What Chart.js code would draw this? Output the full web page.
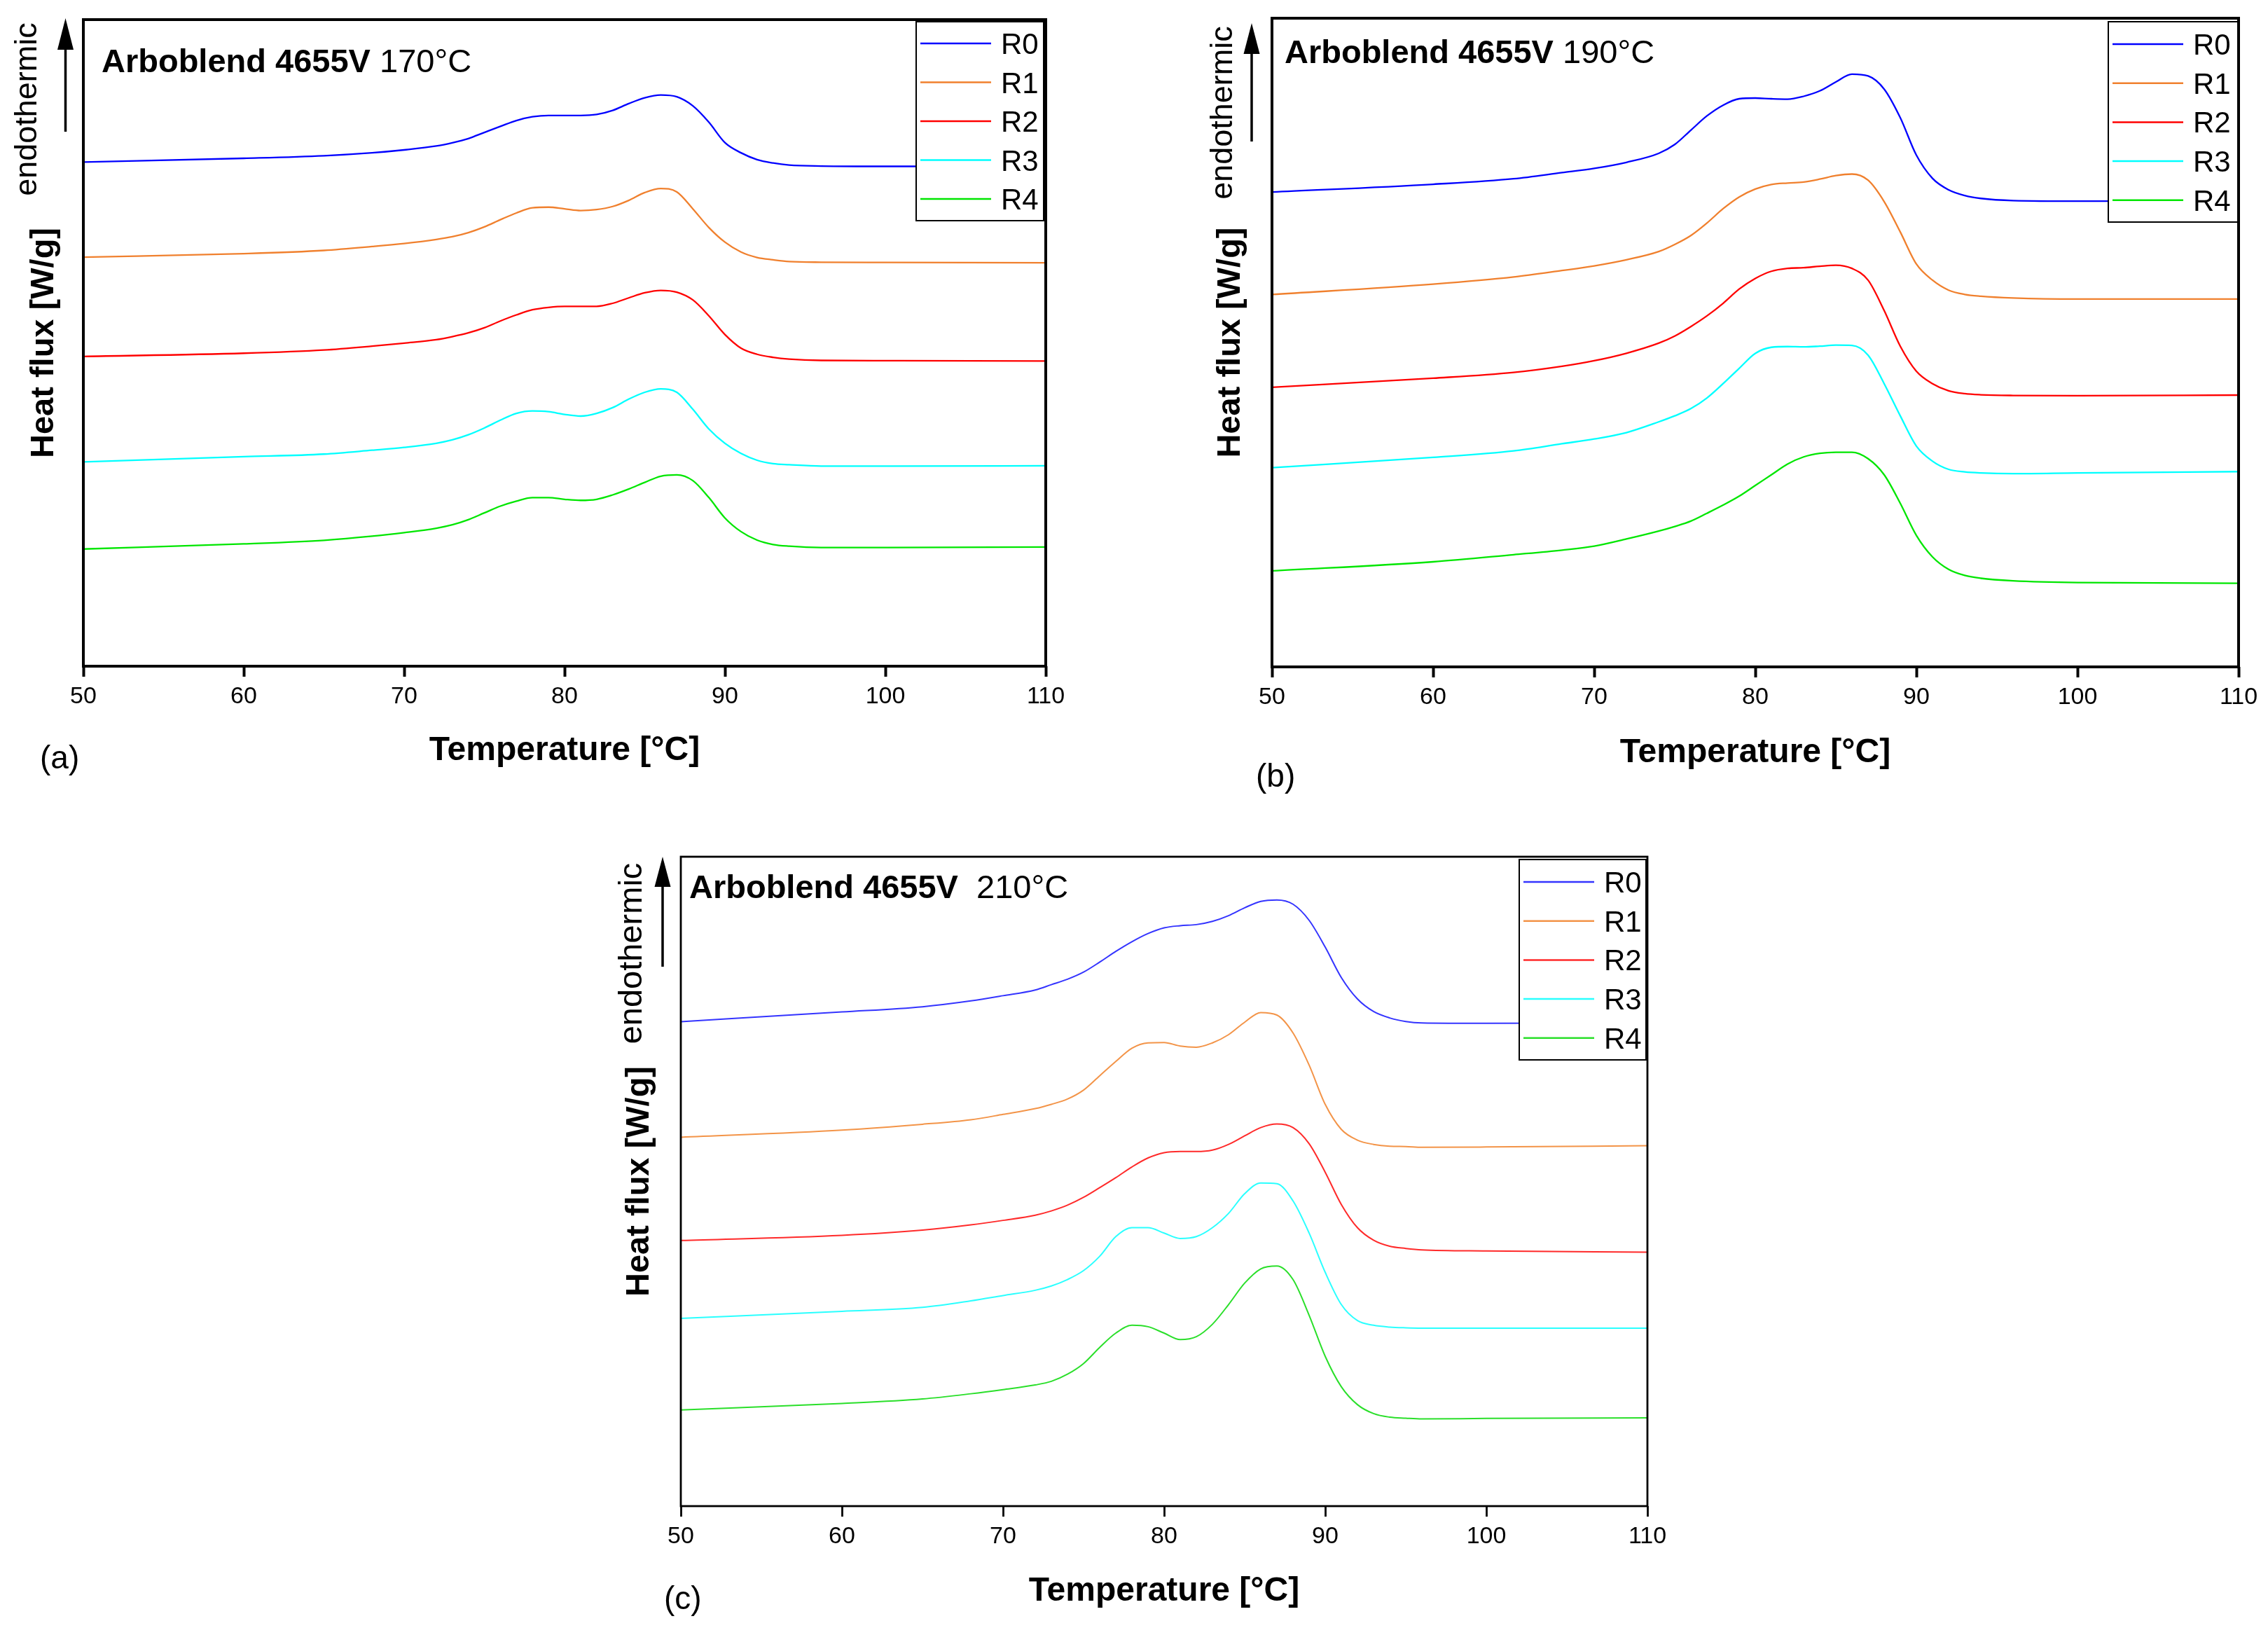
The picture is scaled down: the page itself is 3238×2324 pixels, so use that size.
<!DOCTYPE html>
<html><head><meta charset="utf-8">
<script src="https://cdn.jsdelivr.net/npm/chart.js@4.4.1/dist/chart.umd.min.js"></script>
<style>
html,body{margin:0;padding:0;background:#fff;width:3238px;height:2324px;overflow:hidden;}
canvas{position:absolute;}
</style></head><body>
<canvas id="ca" width="1560" height="1150" style="left:0px;top:0px;width:1560px;height:1150px"></canvas>
<canvas id="cb" width="1618" height="1150" style="left:1620px;top:0px;width:1618px;height:1150px"></canvas>
<canvas id="cc" width="1620" height="1164" style="left:800px;top:1160px;width:1620px;height:1164px"></canvas>
<script>
// ---------------- DATA ----------------
const seriesNames = ['R0', 'R1', 'R2', 'R3', 'R4'];
const xTickValues = [50, 60, 70, 80, 90, 100, 110];

// (a) 170 °C
const tempA = [50, 60, 65, 68, 70, 72, 73, 74, 75, 76, 77, 78, 79, 80, 81, 82, 83, 84, 85, 86, 87, 88, 89, 90, 91, 92, 93, 94, 96, 100, 110];
const a_R0 = [77.96, 78.55, 78.95, 79.4, 79.85, 80.45, 80.95, 81.6, 82.55, 83.49, 84.39, 84.97, 85.18, 85.18, 85.18, 85.33, 85.96, 87.01, 87.91, 88.33, 88.06, 86.65, 84.12, 80.97, 79.4, 78.35, 77.82, 77.5, 77.35, 77.3, 77.3];
const a_R1 = [63.25, 63.8, 64.3, 64.9, 65.37, 66.0, 66.42, 67.05, 67.94, 69.05, 70.1, 70.89, 70.99, 70.73, 70.46, 70.62, 71.1, 72.04, 73.25, 73.88, 73.35, 70.73, 67.84, 65.58, 64.05, 63.21, 62.85, 62.58, 62.48, 62.45, 62.4];
const a_R2 = [47.9, 48.4, 48.9, 49.5, 49.97, 50.5, 50.97, 51.55, 52.34, 53.39, 54.33, 55.12, 55.49, 55.65, 55.65, 55.65, 56.12, 56.96, 57.75, 58.12, 57.85, 56.65, 54.18, 51.29, 49.19, 48.24, 47.77, 47.5, 47.29, 47.25, 47.2];
const a_R3 = [31.6, 32.4, 32.8, 33.4, 33.84, 34.47, 35.0, 35.79, 36.84, 38.05, 39.1, 39.47, 39.36, 38.94, 38.68, 39.1, 39.99, 41.3, 42.36, 42.88, 42.36, 39.73, 36.68, 34.47, 32.9, 31.85, 31.32, 31.16, 30.95, 30.95, 31.0];
const a_R4 = [18.12, 18.92, 19.47, 20.1, 20.66, 21.34, 21.87, 22.66, 23.71, 24.76, 25.54, 26.07, 26.07, 25.81, 25.65, 25.81, 26.49, 27.39, 28.43, 29.38, 29.59, 28.7, 26.07, 22.92, 20.81, 19.5, 18.82, 18.56, 18.35, 18.35, 18.44];

// (b) 190 °C
const tempB = [50, 60, 65, 68, 70, 72, 74, 75, 76, 77, 78, 79, 80, 81, 82, 83, 84, 85, 86, 87, 88, 89, 90, 91, 92, 93, 94, 96, 100, 110];
const b_R0 = [73.2, 74.4, 75.25, 76.2, 76.85, 77.78, 79.16, 80.53, 82.74, 84.94, 86.59, 87.58, 87.69, 87.58, 87.52, 87.96, 88.79, 90.17, 91.38, 91.1, 89.07, 84.66, 78.88, 75.31, 73.54, 72.66, 72.22, 71.89, 71.8, 71.8];
const b_R1 = [57.4, 59.0, 60.1, 61.1, 61.82, 62.76, 64.02, 65.12, 66.5, 68.43, 70.63, 72.44, 73.66, 74.37, 74.59, 74.75, 75.19, 75.74, 75.97, 75.03, 71.73, 67.05, 62.1, 59.62, 58.08, 57.42, 57.14, 56.87, 56.7, 56.7];
const b_R2 = [43.1, 44.5, 45.4, 46.35, 47.2, 48.35, 49.9, 51.0, 52.46, 54.11, 56.04, 58.24, 59.89, 60.99, 61.43, 61.54, 61.76, 61.93, 61.43, 59.62, 54.94, 49.44, 45.58, 43.66, 42.56, 42.12, 41.95, 41.84, 41.8, 41.9];
const b_R3 = [30.7, 32.3, 33.3, 34.4, 35.13, 36.12, 37.77, 38.7, 39.81, 41.46, 43.66, 46.02, 48.33, 49.27, 49.38, 49.33, 49.44, 49.6, 49.55, 48.06, 43.66, 38.7, 34.03, 31.71, 30.45, 30.06, 29.9, 29.79, 29.9, 30.1];
const b_R4 = [14.8, 16.2, 17.3, 18.0, 18.61, 19.71, 20.93, 21.64, 22.47, 23.68, 24.94, 26.32, 27.97, 29.62, 31.27, 32.37, 32.92, 33.09, 33.09, 32.1, 29.62, 25.22, 20.27, 16.96, 15.04, 14.1, 13.66, 13.27, 13.0, 12.9];

// (c) 210 °C
const tempC = [50, 60, 65, 68, 70, 72, 73, 74, 75, 76, 77, 78, 79, 80, 81, 82, 83, 84, 85, 86, 87, 88, 89, 90, 91, 92, 93, 94, 95, 96, 100, 110];
const c_R0 = [74.6, 76.1, 76.9, 77.8, 78.6, 79.48, 80.3, 81.13, 82.23, 83.77, 85.42, 86.91, 88.17, 89.05, 89.38, 89.55, 90.05, 90.93, 92.14, 93.13, 93.35, 92.69, 90.21, 86.08, 81.4, 78.1, 76.17, 75.18, 74.63, 74.41, 74.35, 74.4];
const c_R1 = [56.8, 57.9, 58.8, 59.5, 60.32, 61.21, 61.87, 62.69, 64.07, 66.27, 68.47, 70.51, 71.33, 71.39, 70.84, 70.67, 71.33, 72.6, 74.52, 76.01, 75.62, 72.87, 67.92, 61.86, 58.01, 56.36, 55.7, 55.42, 55.37, 55.26, 55.3, 55.5];
const c_R2 = [40.9, 41.7, 42.5, 43.3, 44.0, 44.8, 45.46, 46.34, 47.55, 49.04, 50.58, 52.23, 53.61, 54.43, 54.6, 54.6, 54.82, 55.7, 57.02, 58.29, 58.84, 58.29, 55.81, 51.41, 46.45, 42.88, 40.95, 40.02, 39.68, 39.46, 39.3, 39.1];
const c_R3 = [28.9, 30.0, 30.6, 31.6, 32.42, 33.24, 33.9, 34.89, 36.27, 38.47, 41.5, 42.88, 42.88, 42.05, 41.22, 41.5, 42.88, 45.08, 48.11, 49.76, 49.65, 47.0, 42.05, 36.0, 31.04, 28.57, 27.85, 27.57, 27.46, 27.41, 27.4, 27.4];
const c_R4 = [14.8, 15.8, 16.5, 17.3, 17.94, 18.66, 19.21, 20.31, 21.96, 24.44, 26.64, 27.85, 27.63, 26.64, 25.65, 26.09, 28.01, 31.04, 34.34, 36.54, 36.98, 34.89, 29.39, 23.06, 18.38, 15.63, 14.25, 13.7, 13.54, 13.43, 13.5, 13.6];

const titleBold = 'Arboblend 4655V';
const titleA = ' 170°C';
const titleB = ' 190°C';
const titleC = '  210°C';
const xTitle = 'Temperature [°C]';
const yTitle = 'Heat flux [W/g]';
const endoLabel = 'endothermic';

// ---------------- STYLE / LAYOUT ----------------
const FONT = "'Liberation Sans', Arial, Helvetica, sans-serif";
const colorsAB = ['#0000FF', '#F0802E', '#FF0000', '#00FFFF', '#00E600'];
const colorsC = ['#3434FF', '#F39448', '#FF2A2A', '#2AFFFF', '#2ADF2A'];

const panels = [
  { id: 'ca', W: 1560, H: 1150, area: {l: 119, t: 28, r: 1493, b: 951}, xTitleMid: 1072, yTitleMid: 62.7,
    temps: tempA, series: [a_R0, a_R1, a_R2, a_R3, a_R4], colors: colorsAB, lw: 2.3, frame: 4,
    legend: {x: 1308, y: 31, w: 182, h: 284, row0: 31, step: 55.5},
    title: {x: 145, y: 103, rest: titleA}, endo: {x: 52, y: 156, size: 45},
    arrow: {x: 93.5, tip: 26, base: 71, bottom: 188}, label: {text: '(a)', x: 57, y: 1097} },
  { id: 'cb', W: 1618, H: 1150, area: {l: 196, t: 26, r: 1576, b: 952}, xTitleMid: 1075, yTitleMid: 136.9,
    temps: tempB, series: [b_R0, b_R1, b_R2, b_R3, b_R4], colors: colorsAB, lw: 2.3, frame: 4,
    legend: {x: 1390, y: 31, w: 185, h: 286, row0: 32, step: 55.7},
    title: {x: 214, y: 90, rest: titleB}, endo: {x: 139, y: 161, size: 45},
    arrow: {x: 167, tip: 33, base: 77, bottom: 202}, label: {text: '(b)', x: 173, y: 1123} },
  { id: 'cc', W: 1620, H: 1164, area: {l: 172, t: 63, r: 1552, b: 990}, xTitleMid: 1112, yTitleMid: 113.3,
    temps: tempC, series: [c_R0, c_R1, c_R2, c_R3, c_R4], colors: colorsC, lw: 2.0, frame: 2.8,
    legend: {x: 1369, y: 67, w: 181, h: 286, row0: 32, step: 55.7},
    title: {x: 184, y: 122, rest: titleC}, endo: {x: 116, y: 201, size: 47},
    arrow: {x: 146, tip: 63, base: 106, bottom: 220}, label: {text: '(c)', x: 148, y: 1137} }
];

const X_TITLE_SIZE = 48;
const Y_TITLE_SIZE = 47;

const decorPlugin = {
  id: 'decor',
  afterDatasetsDraw(chart, args, opts) {
    const p = opts.panel;
    const ctx = chart.ctx;
    const a = chart.chartArea;
    ctx.save();
    // frame
    ctx.strokeStyle = '#000';
    ctx.lineWidth = p.frame;
    ctx.strokeRect(a.left, a.top, a.right - a.left, a.bottom - a.top);
    // legend
    const L = p.legend;
    ctx.fillStyle = '#fff';
    ctx.fillRect(L.x, L.y, L.w, L.h);
    ctx.lineWidth = 2;
    ctx.strokeRect(L.x, L.y, L.w, L.h);
    ctx.font = '42px ' + FONT;
    ctx.textBaseline = 'alphabetic';
    ctx.textAlign = 'left';
    chart.data.datasets.forEach((ds, i) => {
      const cy = L.y + L.row0 + i * L.step;
      ctx.strokeStyle = ds.borderColor;
      ctx.lineWidth = 2.5;
      ctx.beginPath();
      ctx.moveTo(L.x + 6, cy);
      ctx.lineTo(L.x + 107, cy);
      ctx.stroke();
      ctx.fillStyle = '#000';
      ctx.fillText(ds.label, L.x + 121, cy + 0.358 * 42);
    });
    // title
    ctx.fillStyle = '#000';
    ctx.font = 'bold 47px ' + FONT;
    ctx.fillText(titleBold, p.title.x, p.title.y);
    const wb = ctx.measureText(titleBold).width;
    ctx.font = '47px ' + FONT;
    ctx.fillText(p.title.rest, p.title.x + wb, p.title.y);
    // endothermic
    ctx.save();
    ctx.translate(p.endo.x, p.endo.y);
    ctx.rotate(-Math.PI / 2);
    ctx.font = p.endo.size + 'px ' + FONT;
    ctx.textAlign = 'center';
    ctx.fillText(endoLabel, 0, 0);
    ctx.restore();
    // arrow
    const ar = p.arrow;
    ctx.strokeStyle = '#000';
    ctx.lineWidth = 3.5;
    ctx.beginPath();
    ctx.moveTo(ar.x, ar.bottom);
    ctx.lineTo(ar.x, ar.base - 2);
    ctx.stroke();
    ctx.beginPath();
    ctx.moveTo(ar.x, ar.tip);
    ctx.lineTo(ar.x - 11.5, ar.base);
    ctx.lineTo(ar.x + 11.5, ar.base);
    ctx.closePath();
    ctx.fillStyle = '#000';
    ctx.fill();
    // panel label
    ctx.font = '46px ' + FONT;
    ctx.textAlign = 'left';
    ctx.fillText(p.label.text, p.label.x, p.label.y);
    ctx.restore();
  }
};

function buildChart(p) {
  const xAxisH = p.xTitleMid + X_TITLE_SIZE * 0.6 - p.area.b;
  const datasets = seriesNames.map((name, i) => ({
    label: name,
    data: p.temps.map((t, k) => ({x: t, y: p.series[i][k]})),
    borderColor: p.colors[i],
    backgroundColor: p.colors[i],
    borderWidth: p.lw,
    pointRadius: 0,
    fill: false,
    cubicInterpolationMode: 'monotone'
  }));
  return new Chart(document.getElementById(p.id), {
    type: 'line',
    data: { datasets },
    plugins: [decorPlugin],
    options: {
      responsive: false,
      animation: false,
      devicePixelRatio: 1,
      events: [],
      layout: { padding: { left: 0, top: p.area.t, right: p.W - p.area.r, bottom: p.H - p.area.b - xAxisH } },
      plugins: { legend: { display: false }, tooltip: { enabled: false }, decor: { panel: p } },
      scales: {
        x: {
          type: 'linear', min: 50, max: 110,
          afterFit: (s) => { s.height = xAxisH; },
          afterBuildTicks: (s) => { s.ticks = xTickValues.map(v => ({value: v})); },
          ticks: { color: '#000', font: { family: FONT, size: 34 }, padding: 8, maxRotation: 0, autoSkip: false },
          grid: { display: true, drawOnChartArea: false, drawTicks: true, tickLength: 15, tickWidth: p.frame, tickColor: '#000' },
          border: { display: false },
          title: { display: true, text: xTitle, color: '#000', font: { family: FONT, size: X_TITLE_SIZE, weight: 'bold' }, padding: 0 }
        },
        y: {
          type: 'linear', min: 0, max: 100,
          afterFit: (s) => { s.width = p.area.l; },
          ticks: { display: false },
          grid: { display: false },
          border: { display: false },
          title: { display: true, text: yTitle, color: '#000', font: { family: FONT, size: Y_TITLE_SIZE, weight: 'bold' }, padding: { top: p.yTitleMid - Y_TITLE_SIZE * 0.6, bottom: 0 } }
        }
      }
    }
  });
}
panels.forEach(buildChart);
</script>
</body></html>
